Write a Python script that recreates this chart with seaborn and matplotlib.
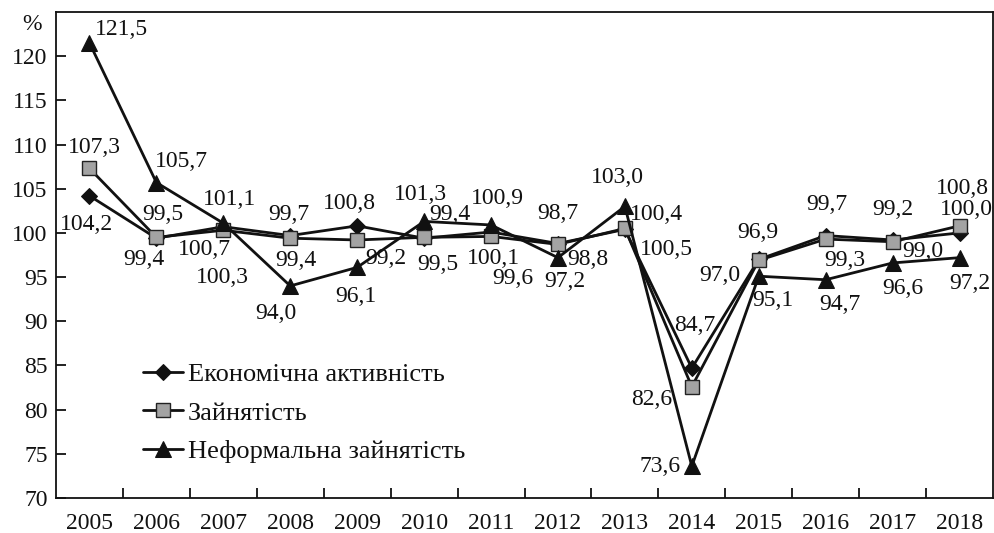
import pandas as pd
import seaborn as sns
import matplotlib.pyplot as plt

years = list(range(2005, 2019))
econ_activity = [104.2, 99.4, 100.7, 99.7, 100.8, 99.4, 100.1, 98.8, 100.4, 84.7, 97.0, 99.7, 99.2, 100.0]
employment = [107.3, 99.5, 100.3, 99.4, 99.2, 99.5, 99.6, 98.7, 100.5, 82.6, 96.9, 99.3, 99.0, 100.8]
informal = [121.5, 105.7, 101.1, 94.0, 96.1, 101.3, 100.9, 97.2, 103.0, 73.6, 95.1, 94.7, 96.6, 97.2]
series_names = ['Економічна активність', 'Зайнятість', 'Неформальна зайнятість']

# label offsets in pixels (dx right, dy down) from each point
econ_offsets = [(-3, 27), (-13, 19), (-19, 21), (-1, -23), (-8, -24), (26, -26), (2, 24),
                (30, 14), (32, -17), (3, -45), (-39, 14), (1, -33), (0, -32), (7, -25)]
empl_offsets = [(5, -23), (6, -25), (-1, 45), (6, 20), (29, 17), (14, 25), (22, 40),
                (0, -33), (42, 19), (-40, 11), (-1, -30), (19, 19), (30, 8), (3, -39)]
inf_offsets = [(32, -15), (25, -23), (6, -26), (-14, 26), (-1, 27), (-4, -29), (6, -28),
               (7, 22), (-7, -31), (-32, -2), (14, 22), (14, 23), (10, 24), (10, 24)]

df = pd.DataFrame({
    'year': years * 3,
    'value': econ_activity + employment + informal,
    'series': [s for s in series_names for _ in years],
})

sns.set_style('ticks')
plt.rcParams['font.family'] = ['Liberation Serif', 'DejaVu Serif']

fig = plt.figure(figsize=(9.94, 5.33), dpi=100)
ax = fig.add_axes([56 / 994, 35 / 533, 937 / 994, 486 / 533])

ink = '#111111'
styles = {
    series_names[0]: dict(marker='D', markersize=8, markerfacecolor=ink, markeredgecolor=ink),
    series_names[1]: dict(marker='s', markersize=10, markerfacecolor='#a3a3a3', markeredgecolor='#222222',
                          markeredgewidth=1.0),
    series_names[2]: dict(marker='^', markersize=11, markerfacecolor=ink, markeredgecolor=ink),
}

for name in series_names:
    sns.lineplot(data=df[df['series'] == name], x='year', y='value', ax=ax, color=ink,
                 linewidth=2, label=name, **styles[name])

fs = 17
for vals, offs in [(econ_activity, econ_offsets), (employment, empl_offsets), (informal, inf_offsets)]:
    for yr, v, (dx, dy) in zip(years, vals, offs):
        ax.annotate(f'{v:.1f}'.replace('.', ','), (yr, v), xytext=(dx, -dy - 2),
                    textcoords='offset pixels', ha='center', va='center', fontsize=fs,
                    color=ink)

ax.set_xlim(2004.5, 2018.5)
ax.set_ylim(70, 125)
ax.set_yticks(range(70, 121, 5))
ax.set_xticks(years)
ax.set_xticks([y + 0.5 for y in years[:-1]], minor=True)
ax.tick_params(axis='x', which='major', length=0, labelsize=fs, pad=11, colors=ink)
ax.tick_params(axis='x', which='minor', direction='in', length=7, width=1.3, color=ink)
ax.tick_params(axis='y', direction='in', length=7, width=1.3, labelsize=fs, pad=6, colors=ink)
for sp in ax.spines.values():
    sp.set_visible(True)
    sp.set_color(ink)
    sp.set_linewidth(1.3)
ax.set_xlabel('')
ax.set_ylabel('')
ax.annotate('%', (32 / 994, 1 - 25 / 533), xycoords='figure fraction', ha='center', va='center',
            fontsize=fs, color=ink)

ax.legend(loc='upper left', bbox_to_anchor=(0.093, 0.278), frameon=False, fontsize=19,
          handlelength=1.5, handletextpad=0.2, labelspacing=0.56, borderpad=0, borderaxespad=0,
          labelcolor=ink)

fig.savefig('out.png', dpi=100)
